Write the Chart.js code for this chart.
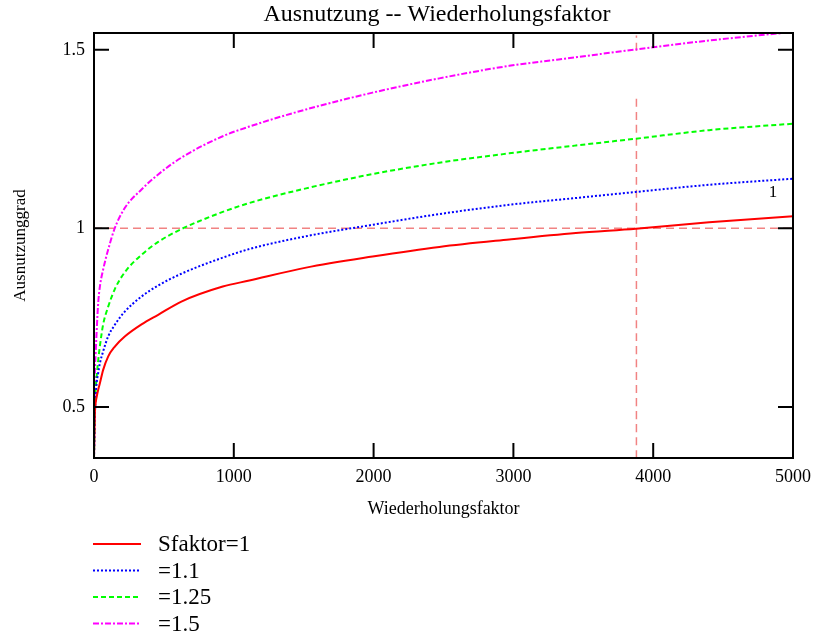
<!DOCTYPE html>
<html>
<head>
<meta charset="utf-8">
<script src="https://cdn.jsdelivr.net/npm/chart.js@4.4.0/dist/chart.umd.min.js"></script>
<style>
  html, body { margin: 0; padding: 0; background: #fff; }
</style>
</head>
<body>
<canvas id="grafik" width="819" height="637"></canvas>
<script>
// Werte
const wiederholung = [0, 6, 12, 20, 30, 42, 65, 101, 149, 220, 340, 459, 625, 921, 1111, 1517, 1993, 2470, 2970, 3447, 3876, 4400, 5000];
const sf1    = [0.357, 0.48, 0.512, 0.53, 0.548, 0.566, 0.603, 0.641, 0.669, 0.697, 0.731, 0.758, 0.795, 0.837, 0.854, 0.890, 0.921, 0.948, 0.969, 0.987, 0.999, 1.017, 1.034];
const sf1_1  = [0.357, 0.47, 0.53, 0.57, 0.595, 0.622, 0.655, 0.697, 0.730, 0.767, 0.809, 0.840, 0.873, 0.918, 0.942, 0.978, 1.010, 1.040, 1.066, 1.085, 1.102, 1.122, 1.139];
const sf1_25 = [0.357, 0.50, 0.55, 0.59, 0.63, 0.67, 0.73, 0.78, 0.830, 0.877, 0.926, 0.962, 0.998, 1.046, 1.071, 1.112, 1.152, 1.184, 1.210, 1.232, 1.251, 1.275, 1.293];
const sf1_5  = [0.357, 0.585, 0.65, 0.72, 0.791, 0.837, 0.884, 0.940, 1.001, 1.057, 1.109, 1.151, 1.198, 1.258, 1.285, 1.333, 1.380, 1.420, 1.455, 1.479, 1.501, 1.526, 1.550];

const xTicks = [0, 1000, 2000, 3000, 4000, 5000];
const yTicks = [0.5, 1, 1.5];
const legende = ["Sfaktor=1", "=1.1", "=1.25", "=1.5"];

// Marker (gestrichelte Hilfslinien)
const markerX = 3880;
const markerY = 1;

const xMin = 0, xMax = 5000;
const yMin = 0.357, yMax = 1.547;

const serif = "'Liberation Serif', 'Times New Roman', serif";

function punkte(werte) {
  return werte.map((v, i) => ({ x: wiederholung[i], y: v }));
}

// Rahmen, Ticks nach innen, Titel, Legende
const rahmenPlugin = {
  id: "rahmen",
  afterDraw(chart) {
    const ctx = chart.ctx;
    const xs = chart.scales.x, ys = chart.scales.y;
    const { left, right, top, bottom } = chart.chartArea;
    ctx.save();
    ctx.strokeStyle = "#000";
    ctx.lineWidth = 2;
    ctx.beginPath();
    xTicks.forEach(v => {
      const px = xs.getPixelForValue(v);
      if (px <= left + 1 || px >= right - 1) return;
      ctx.moveTo(px, bottom); ctx.lineTo(px, bottom - 15);
      ctx.moveTo(px, top); ctx.lineTo(px, top + 15);
    });
    yTicks.forEach(v => {
      const py = ys.getPixelForValue(v);
      ctx.moveTo(left, py); ctx.lineTo(left + 15, py);
      ctx.moveTo(right, py); ctx.lineTo(right - 15, py);
    });
    ctx.stroke();
    ctx.strokeRect(left, top, right - left, bottom - top);

    // Titel
    ctx.fillStyle = "#000";
    ctx.font = "24px " + serif;
    ctx.textAlign = "center";
    ctx.textBaseline = "middle";
    ctx.fillText("Ausnutzung -- Wiederholungsfaktor", 437, 15);

    // Kurvenbeschriftung
    ctx.font = "17px " + serif;
    ctx.fillText("1", xs.getPixelForValue(4857), ys.getPixelForValue(1.10));

    // Legende
    ctx.font = "23px " + serif;
    ctx.textAlign = "left";
    legende.forEach((txt, i) => {
      const ds = chart.data.datasets[i];
      const y = 544 + i * 26.5;
      ctx.save();
      ctx.strokeStyle = ds.borderColor;
      ctx.lineWidth = 2;
      ctx.setLineDash(ds.borderDash || []);
      ctx.beginPath();
      ctx.moveTo(93, y); ctx.lineTo(141, y);
      ctx.stroke();
      ctx.restore();
      ctx.fillText(txt, 158, y + 1);
    });
    ctx.restore();
  }
};

const markerFarbe = "rgba(238, 100, 100, 0.8)";

new Chart(document.getElementById("grafik"), {
  type: "line",
  data: {
    datasets: [
      { label: legende[0], data: punkte(sf1), borderColor: "#ff0000", borderWidth: 2, borderDash: [] },
      { label: legende[1], data: punkte(sf1_1), borderColor: "#0000ff", borderWidth: 2, borderDash: [2, 2] },
      { label: legende[2], data: punkte(sf1_25), borderColor: "#00ff00", borderWidth: 2, borderDash: [5, 3] },
      { label: legende[3], data: punkte(sf1_5), borderColor: "#ff00ff", borderWidth: 2, borderDash: [6, 2, 2, 2] },
      { label: "markerY", data: [{ x: xMin, y: markerY }, { x: xMax, y: markerY }],
        borderColor: markerFarbe, borderWidth: 1.5, borderDash: [8, 5] },
      { label: "markerX", data: [{ x: markerX, y: yMin }, { x: markerX, y: 1.37 }, { x: markerX, y: null },
                                 { x: markerX, y: 1.497 }, { x: markerX, y: 1.54 }],
        borderColor: markerFarbe, borderWidth: 1.5, borderDash: [8, 5] }
    ]
  },
  options: {
    responsive: false,
    animation: false,
    events: [],
    spanGaps: false,
    cubicInterpolationMode: "monotone",
    elements: { point: { radius: 0 }, line: { fill: false } },
    layout: { padding: { top: 33, right: 23, bottom: 107, left: 0 } },
    plugins: {
      legend: { display: false },
      title: { display: false },
      tooltip: { enabled: false }
    },
    scales: {
      x: {
        type: "linear",
        min: xMin, max: xMax,
        afterBuildTicks: s => { s.ticks = xTicks.map(v => ({ value: v })); },
        afterFit: s => { s.height = 72; },
        grid: { display: false, drawTicks: false },
        border: { display: false },
        ticks: { color: "#000", padding: 8, maxRotation: 0, font: { family: serif, size: 18 },
                 callback: v => String(v) },
        title: { display: true, text: "Wiederholungsfaktor", color: "#000",
                 padding: { top: 0, bottom: 10 }, font: { family: serif, size: 18 } }
      },
      y: {
        type: "linear",
        min: yMin, max: yMax,
        afterBuildTicks: s => { s.ticks = yTicks.map(v => ({ value: v })); },
        afterFit: s => { s.width = 94; },
        grid: { display: false, drawTicks: false },
        border: { display: false },
        ticks: { color: "#000", padding: 9, font: { family: serif, size: 18 },
                 callback: v => String(v) },
        title: { display: true, text: "Ausnutzunggrad", color: "#000",
                 padding: { top: 10, bottom: 0 }, font: { family: serif, size: 17 } }
      }
    }
  },
  plugins: [rahmenPlugin]
});
</script>
</body>
</html>
